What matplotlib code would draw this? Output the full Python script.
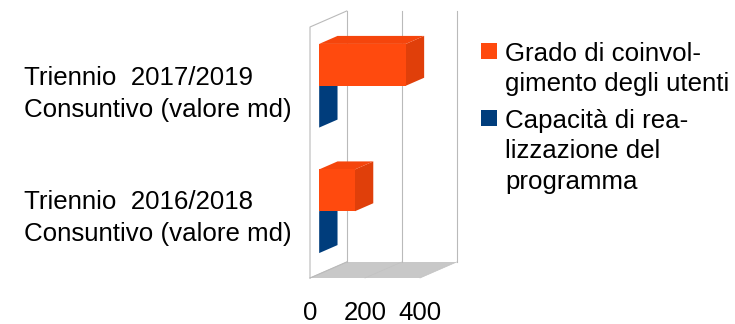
import matplotlib
matplotlib.use('Agg')
import matplotlib.pyplot as plt
from matplotlib.patches import Polygon

plt.rcParams['font.family'] = ['Liberation Sans', 'DejaVu Sans']

categories = ['Triennio  2016/2018\nConsuntivo (valore md)',
              'Triennio  2017/2019\nConsuntivo (valore md)']
grado_values = [130, 315]
capacita_values = [0, 0]
ticks = [0, 200, 400]
tick_labels = ['0', '200', '400']
legend_labels = ['Grado di coinvol-\ngimento degli utenti',
                 'Capacità di rea-\nlizzazione del\nprogramma']

ORANGE = '#ff4a0e'
ORANGE_TOP = '#f5450c'
ORANGE_SIDE = '#e03f0a'
BLUE = '#003d7c'
GRID = '#bababa'
FLOOR = '#c8c8c8'
FONT = 18.6

# box geometry in pixels
X0, WIDTH_PER_UNIT = 310.0, 110.0 / 400
Y_BOTTOM, Y_TOP = 278.0, 27.0
DEPTH_X, DEPTH_Y = 36.7, -16.0
BAR_D0, BAR_D1 = 0.25, 0.75
LABEL_SHIFT = [6.5, 8.5]


def proj(value, level, depth=0.0):
    """value on the x axis, level in category units, depth 0 (front) to 1 (back)"""
    x = X0 + value * WIDTH_PER_UNIT + DEPTH_X * depth
    y = Y_BOTTOM - level * (Y_BOTTOM - Y_TOP) / len(categories) + DEPTH_Y * depth
    return x, y


def draw_bar(ax, value, lo, hi, front, top, side):
    # right side, top, then front face
    ax.add_patch(Polygon([proj(value, lo, BAR_D0), proj(value, lo, BAR_D1),
                          proj(value, hi, BAR_D1), proj(value, hi, BAR_D0)],
                         fc=side, ec='none', zorder=3))
    ax.add_patch(Polygon([proj(0, hi, BAR_D0), proj(0, hi, BAR_D1),
                          proj(value, hi, BAR_D1), proj(value, hi, BAR_D0)],
                         fc=top, ec='none', zorder=3))
    ax.add_patch(Polygon([proj(0, lo, BAR_D0), proj(value, lo, BAR_D0),
                          proj(value, hi, BAR_D0), proj(0, hi, BAR_D0)],
                         fc=front, ec='none', zorder=3))


fig = plt.figure(figsize=(7.35, 3.24), dpi=100)
ax = fig.add_axes([0, 0, 1, 1])
ax.set_xlim(0, 735)
ax.set_ylim(324, 0)
ax.axis('off')

# floor
ax.add_patch(Polygon([proj(0, 0), proj(ticks[-1], 0), proj(ticks[-1], 0, 1), proj(0, 0, 1)],
                     fc=FLOOR, ec='none', zorder=1))
for t in ticks:
    ax.plot(*zip(proj(t, 0, 1), proj(t, 2, 1)), color=GRID, lw=0.8, zorder=2)
    ax.plot(*zip(proj(t, 0, 0), proj(t, 0, 1)), color='#c2c2c2', lw=0.5, zorder=1.5)

# side wall
ax.plot(*zip(proj(0, 0), proj(0, 2), proj(0, 2, 1)), color=GRID, lw=0.8, zorder=2)
ax.plot(*zip(proj(0, 0), proj(0, 0, 1)), color=GRID, lw=0.8, zorder=2)

for i in range(len(categories)):
    # blue first so the orange bar sits over it
    draw_bar(ax, capacita_values[i], i + 1 / 6, i + 1 / 2, BLUE, BLUE, BLUE)
    draw_bar(ax, grado_values[i], i + 1 / 2, i + 5 / 6, ORANGE, ORANGE_TOP, ORANGE_SIDE)
    yl = proj(0, i + 1 / 2, BAR_D0)[1]
    ax.text(24, yl + LABEL_SHIFT[i], categories[i], fontsize=FONT, ha='left', va='center',
            linespacing=1.42, color='black')

for t, lab in zip(ticks, tick_labels):
    ax.text(proj(t, 0)[0], 312.5, lab, fontsize=FONT, ha='center', va='center', color='black')

# legend
ax.add_patch(plt.Rectangle((480.7, 42.7), 16, 16, fc=ORANGE, ec='none'))
ax.add_patch(plt.Rectangle((480.7, 110), 16, 16, fc=BLUE, ec='none'))
ax.text(505, 69, legend_labels[0], fontsize=FONT, ha='left', va='center', linespacing=1.34)
ax.text(505, 151.5, legend_labels[1], fontsize=FONT, ha='left', va='center', linespacing=1.34)

fig.savefig('out.png', dpi=100)
